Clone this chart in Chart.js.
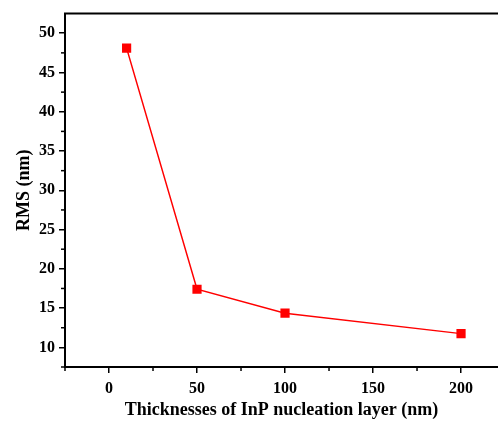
<!DOCTYPE html>
<html>
<head>
<meta charset="utf-8">
<script src="https://cdn.jsdelivr.net/npm/chart.js@4.4.0/dist/chart.umd.min.js"></script>
<style>
  html, body { margin: 0; padding: 0; background: #fff; overflow: hidden; }
  #wrap { width: 498px; height: 421px; position: relative; }
</style>
</head>
<body>
<div id="wrap"><canvas id="myChart"></canvas></div>
<script>
// values
const thickness = [10, 50, 100, 200];
const rms = [48.1, 17.4, 14.35, 11.75];
const xTicks = [0, 50, 100, 150, 200];
const yTicks = [10, 15, 20, 25, 30, 35, 40, 45, 50];
const xMinorTicks = [-25, 25, 75, 125, 175];
const yMinorTicks = [7.5, 12.5, 17.5, 22.5, 27.5, 32.5, 37.5, 42.5, 47.5];

const fontFamily = '"Liberation Serif", "Times New Roman", serif';

// little ticks between the labelled ones + the top frame line
const framePlugin = {
    id: 'frame',
    afterDraw(chart) {
        const ctx = chart.ctx;
        const area = chart.chartArea;
        const x = chart.scales.x;
        const y = chart.scales.y;
        ctx.save();
        ctx.strokeStyle = '#000';
        ctx.lineWidth = 2;
        ctx.beginPath();
        ctx.moveTo(area.left - 1, area.top);
        ctx.lineTo(chart.width, area.top);
        ctx.stroke();

        ctx.lineWidth = 1.5;
        yMinorTicks.forEach((v) => {
            const py = y.getPixelForValue(v);
            ctx.beginPath();
            ctx.moveTo(area.left, py);
            ctx.lineTo(area.left - 4, py);
            ctx.stroke();
        });
        xMinorTicks.forEach((v) => {
            const px = x.getPixelForValue(v);
            ctx.beginPath();
            ctx.moveTo(px, area.bottom);
            ctx.lineTo(px, area.bottom + 4);
            ctx.stroke();
        });
        ctx.restore();
    }
};

const ctx = document.getElementById('myChart').getContext('2d');

const chart = new Chart(ctx, {
    type: 'scatter',
    data: {
        datasets: [{
            label: 'RMS',
            data: thickness.map((t, i) => ({ x: t, y: rms[i] })),
            showLine: true,
            borderColor: '#ff0000',
            backgroundColor: '#ff0000',
            borderWidth: 1.5,
            pointStyle: 'rect',
            pointRadius: 6.5,
            pointHoverRadius: 6.5,
            pointBorderWidth: 0
        }]
    },
    options: {
        responsive: true,
        maintainAspectRatio: false,
        animation: false,
        layout: { autoPadding: false, padding: { top: 13, right: 0, left: 0, bottom: 0 } },
        plugins: {
            legend: { display: false },
            tooltip: { enabled: false }
        },
        scales: {
            x: {
                type: 'linear',
                min: -25,
                max: 221,
                afterBuildTicks: (scale) => { scale.ticks = xTicks.map((v) => ({ value: v })); },
                afterFit: (scale) => { scale.height = 54; },
                border: { display: true, color: '#000', width: 2 },
                grid: { drawOnChartArea: false, tickLength: 6, tickColor: '#000', lineWidth: 1.5 },
                ticks: {
                    color: '#000',
                    padding: 6,
                    maxRotation: 0,
                    font: { family: fontFamily, size: 16, weight: 'bold' }
                },
                title: {
                    display: true,
                    text: 'Thicknesses of InP nucleation layer (nm)',
                    color: '#000',
                    padding: { top: 5, bottom: 0 },
                    font: { family: fontFamily, size: 18, weight: 'bold' }
                }
            },
            y: {
                type: 'linear',
                min: 7.5,
                max: 52.5,
                afterBuildTicks: (scale) => { scale.ticks = yTicks.map((v) => ({ value: v })); },
                afterFit: (scale) => { scale.width = 65; },
                border: { display: true, color: '#000', width: 2 },
                grid: { drawOnChartArea: false, tickLength: 6, tickColor: '#000', lineWidth: 1.5 },
                ticks: {
                    color: '#000',
                    padding: 4,
                    font: { family: fontFamily, size: 16, weight: 'bold' }
                },
                title: {
                    display: true,
                    text: 'RMS (nm)',
                    color: '#000',
                    padding: { top: 14, bottom: 0 },
                    font: { family: fontFamily, size: 18, weight: 'bold' }
                }
            }
        }
    },
    plugins: [framePlugin]
});
</script>
</body>
</html>
